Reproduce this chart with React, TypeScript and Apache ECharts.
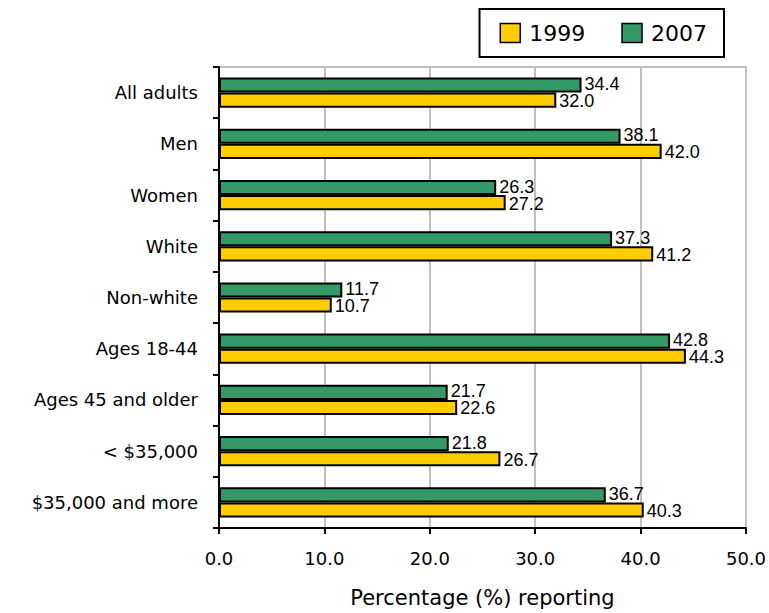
import React, { useEffect, useRef } from "react";
import * as echarts from "echarts";

const categories = [
  "All adults",
  "Men",
  "Women",
  "White",
  "Non-white",
  "Ages 18-44",
  "Ages 45 and older",
  "< $35,000",
  "$35,000 and more",
];
const values1999 = [32.0, 42.0, 27.2, 41.2, 10.7, 44.3, 22.6, 26.7, 40.3];
const values2007 = [34.4, 38.1, 26.3, 37.3, 11.7, 42.8, 21.7, 21.8, 36.7];
const xTicks = [0, 10, 20, 30, 40, 50];

const FONT = "'Comic Sans MS', 'DejaVu Sans', sans-serif";
const LABEL_FONT = "'Liberation Sans', Arial, sans-serif";

export default function App() {
  const ref = useRef<HTMLDivElement>(null);
  useEffect(() => {
    document.body.style.margin = "0";
    const chart = echarts.init(ref.current!, null, { renderer: "svg" });
    const valueLabel = (dy: number) => ({
      show: true,
      position: "right",
      distance: 3,
      offset: [0, dy],
      fontFamily: LABEL_FONT,
      fontSize: 18,
      color: "#000",
      formatter: (p: any) => Number(p.value).toFixed(1),
    });
    chart.setOption({
      animation: false,
      backgroundColor: "#ffffff",
      legend: {
        data: ["1999", "2007"],
        right: 45,
        top: 9,
        borderColor: "#000",
        borderWidth: 2,
        padding: [13, 17, 13, 20],
        itemWidth: 20,
        itemHeight: 19,
        itemGap: 36,
        icon: "rect",
        itemStyle: { borderColor: "#000", borderWidth: 1.5 },
        textStyle: { fontFamily: FONT, fontSize: 22, color: "#000", padding: [0, 0, 0, 4] },
      },
      grid: {
        left: 219,
        right: 23,
        top: 67,
        bottom: 84,
        show: true,
        borderColor: "#c0c0c0",
        borderWidth: 2,
      },
      xAxis: {
        type: "value",
        min: xTicks[0],
        max: xTicks[xTicks.length - 1],
        interval: 10,
        name: "Percentage (%) reporting",
        nameLocation: "middle",
        nameGap: 59,
        nameTextStyle: { fontFamily: FONT, fontSize: 21, color: "#000" },
        axisLine: { show: true, lineStyle: { color: "#000", width: 2 } },
        axisTick: { show: true, length: 6, lineStyle: { color: "#000", width: 2 } },
        axisLabel: {
          fontFamily: FONT,
          fontSize: 18,
          color: "#000",
          margin: 21,
          formatter: (v: number) => v.toFixed(1),
        },
        splitLine: { show: true, lineStyle: { color: "#c0c0c0", width: 2 } },
      },
      yAxis: {
        type: "category",
        data: categories,
        inverse: true,
        axisLine: { show: true, lineStyle: { color: "#000", width: 2 } },
        axisTick: { show: true, length: 6, lineStyle: { color: "#000", width: 2 } },
        axisLabel: { fontFamily: FONT, fontSize: 18, color: "#000", margin: 21 },
        splitLine: { show: false },
      },
      series: [
        {
          name: "2007",
          type: "bar",
          data: values2007,
          barGap: "0%",
          barCategoryGap: "41%",
          itemStyle: { color: "#339966", borderColor: "#000", borderWidth: 2 },
          label: valueLabel(-1),
        },
        {
          name: "1999",
          type: "bar",
          data: values1999,
          barGap: "0%",
          barCategoryGap: "41%",
          itemStyle: { color: "#FFCC00", borderColor: "#000", borderWidth: 2 },
          label: valueLabel(1),
        },
      ],
    });
    return () => chart.dispose();
  }, []);
  return (
    <div
      ref={ref}
      style={{ position: "absolute", left: 0, top: 0, width: 769, height: 613 }}
    />
  );
}
